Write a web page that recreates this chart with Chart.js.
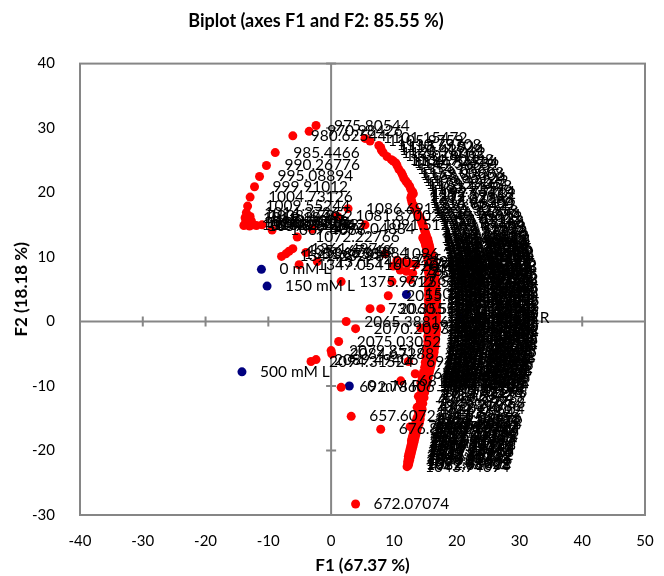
<!DOCTYPE html>
<html>
<head>
<meta charset="utf-8">
<title>Biplot</title>
<script src="https://cdn.jsdelivr.net/npm/chart.js@4"></script>
<style>
  body { margin: 0; background: #fff; }
  canvas { display: block; }
</style>
</head>
<body>
<canvas id="chartBiplot" width="664" height="576"></canvas>
<script>
var obsLabels = ['0 mM L', '150 mM L', '500 mM L', '0 mM R', '150 mM R', '500 mM R'];
var obsF1 = [-11.1, -10.2, -14.2, 2.9, 12.0, 20.5];
var obsF2 = [8.1, 5.5, -7.8, -10.0, 4.2, 0.6];

// left arc, running back towards the band
var arcLabels = ['970.98426', '975.80544', '980.62544', '985.4466', '990.26776', '995.08894', '999.91012', '1004.73126', '1009.55244', '1014.37362',
  '1019.1948', '1024.01598', '1028.83716', '1033.65834', '1038.47952', '1043.3007', '1048.12188', '1052.94306', '1057.76424', '1062.58542',
  '1067.4066', '1072.22766', '1077.04884', '1081.87002', '1086.69118', '1091.51236', '1096.33354'];
var arcF1 = [-3.5, -2.4, -6.1, -8.9, -10.3, -11.4, -12.2, -12.9, -13.3, -13.5,
  -13.7, -13.9, -13.6, -13.2, -12.9, -12.7, -11.9, -12.4, -13.0, -11.0,
  -9.4, -5.4, -3.0, 1.0, 2.7, 5.4, 8.6];
var arcF2 = [29.5, 30.4, 28.8, 26.2, 24.2, 22.5, 20.9, 19.3, 17.9, 16.9,
  16.1, 14.9, 15.5, 15.3, 16.3, 15.6, 14.9, 15.0, 14.8, 15.0,
  14.2, 13.1, 14.3, 16.3, 17.5, 15.0, 10.5];

// main band, top to bottom
var bandLabels = ['1101.15472', '1105.9759', '1110.79708', '1115.61826', '1120.43944', '1125.26062', '1130.0818', '1134.90298', '1139.72416', '1144.54534',
  '1149.36652', '1154.1877', '1159.00888', '1163.83006', '1168.65124', '1173.47242', '1178.2936', '1183.11478', '1187.93596', '1192.75714',
  '1197.57832', '1202.3995', '1207.22068', '1212.04186', '1216.86304', '1221.68422', '1226.5054', '1231.32658', '1236.14776', '1240.96894',
  '1245.79012', '1250.6113', '1255.43248', '1260.25366', '1265.07484', '1269.89602', '1274.7172', '1279.53838', '1284.35956', '1289.18074',
  '1294.00192', '1298.8231', '1303.64428', '1308.46546', '1313.28664', '1318.10782', '1322.929', '1327.75018', '1332.57136', '1337.39254',
  '1380.78316', '1385.60434', '1390.42552', '1395.2467', '1400.06788', '1404.88906', '1409.71024', '1414.53142', '1419.3526', '1424.17378',
  '1428.99496', '1433.81614', '1438.63732', '1443.4585', '1448.27968', '1453.10086', '1457.92204', '1462.74322', '1467.5644', '1472.38558',
  '1477.20676', '1482.02794', '1486.84912', '1491.6703', '1496.49148', '1501.31266', '1506.13384', '1510.95502', '1515.7762', '1520.59738',
  '1525.41856', '1530.23974', '1535.06092', '1539.8821', '1544.70328', '1549.52446', '1554.34564', '1559.16682', '1563.988', '1568.80918',
  '1573.63036', '1578.45154', '1583.27272', '1588.0939', '1592.91508', '1597.73626', '1602.55744', '1607.37862', '1612.1998', '1617.02098',
  '1621.84216', '1626.66334', '1631.48452', '1636.3057', '1641.12688', '1645.94806', '1650.76924', '1655.59042', '1660.4116', '1665.23278',
  '1670.05396', '1674.87514', '1679.69632', '1684.5175', '1689.33868', '1694.15986', '1698.98104', '1703.80222', '1708.6234', '1713.44458',
  '1718.26576', '1723.08694', '1727.90812', '1732.7293', '1737.55048', '1742.37166', '1747.19284', '1752.01402', '1756.8352', '1761.65638',
  '1766.47756', '1771.29874', '1776.11992', '1780.9411', '1785.76228', '1790.58346', '1795.40464', '1800.22582', '1805.047', '1809.86818',
  '1814.68936', '1819.51054', '1824.33172', '1829.1529', '1833.97408', '1838.79526', '1843.61644', '1848.43762', '1853.2588', '1858.07998',
  '1862.90116', '1867.72234', '1872.54352', '1877.3647', '1882.18588', '1887.00706', '1891.82824', '1896.64942', '1901.4706', '1906.29178',
  '1911.11296', '1915.93414', '1920.75532', '1925.5765', '1930.39768', '1935.21886', '1940.04004', '1944.86122', '1949.6824', '1954.50358',
  '1959.32476', '1964.14594', '1968.96712', '1973.7883', '1978.60948', '1983.43066', '1988.25184', '1993.07302', '1997.8942', '2002.71538',
  '2007.53656', '2012.35774', '2017.17892', '2022.0001', '2026.82128', '2031.64246', '2036.46364', '2041.28482', '2046.106', '2050.92718',
  '1000.11908', '1004.94026', '1009.76144', '1014.58262', '1019.4038', '1024.22498', '1029.04616', '1033.86734', '1038.68852', '1048.76212',
  '1053.5833', '1058.40448', '1063.22566', '1068.04684', '1072.86802', '1077.6892', '1082.51038', '1043.94094'];
var bandF1 = [5.4, 6.2, 7.6, 7.9, 8.0, 8.3, 8.9, 9.6, 9.9, 10.3,
  10.5, 10.8, 11.2, 11.4, 11.6, 11.9, 12.2, 12.5, 12.7, 13.0,
  13.1, 12.8, 12.7, 12.8, 12.9, 13.1, 13.3, 13.5, 13.7, 13.9,
  14.1, 14.3, 14.4, 14.5, 14.6, 14.7, 14.8, 14.9, 15.0, 15.1,
  15.2, 14.6, 15.4, 14.8, 15.5, 15.0, 15.6, 15.1, 15.7, 15.2,
  15.8, 15.3, 15.9, 15.4, 16.0, 15.5, 16.1, 15.6, 16.2, 15.6,
  16.3, 15.7, 16.4, 15.7, 16.5, 15.8, 16.4, 15.8, 16.5, 15.9,
  16.6, 15.9, 16.5, 16.0, 16.6, 16.0, 16.7, 16.0, 16.6, 16.1,
  16.7, 16.1, 16.6, 16.1, 16.7, 16.2, 16.8, 16.2, 16.7, 16.2,
  16.8, 16.2, 16.7, 16.3, 16.8, 16.3, 16.7, 16.3, 16.8, 16.3,
  16.7, 16.3, 16.8, 16.3, 16.7, 16.3, 16.8, 16.3, 16.7, 16.2,
  16.7, 16.2, 16.8, 16.2, 16.7, 16.1, 16.7, 16.1, 16.6, 16.1,
  16.6, 16.0, 16.6, 16.0, 16.5, 15.9, 16.5, 15.8, 16.4, 15.8,
  16.4, 15.7, 16.3, 15.6, 16.2, 15.5, 16.1, 15.4, 16.0, 15.3,
  15.9, 15.2, 15.8, 15.1, 15.7, 15.0, 15.6, 14.9, 15.5, 14.8,
  15.4, 14.8, 15.3, 14.7, 15.2, 14.6, 15.1, 14.5, 15.0, 14.4,
  14.9, 14.4, 14.8, 14.2, 14.6, 14.0, 14.5, 13.9, 14.3, 13.7,
  14.2, 13.6, 14.1, 13.5, 14.0, 13.4, 13.8, 13.3, 13.7, 13.2,
  13.6, 13.1, 13.5, 13.0, 13.4, 12.9, 13.3, 12.8, 13.2, 12.8,
  13.1, 12.7, 13.0, 12.6, 12.9, 12.5, 12.8, 12.4, 12.7, 12.3,
  12.6, 12.3, 12.5, 12.2, 12.4, 12.2, 12.3, 12.1];
var bandF2 = [28.4, 28.0, 27.3, 27.0, 26.6, 26.2, 25.6, 25.1, 24.9, 24.6,
  24.2, 23.6, 23.1, 22.7, 22.2, 21.8, 21.4, 21.0, 20.5, 20.1,
  19.8, 19.5, 19.2, 18.8, 18.4, 18.0, 17.6, 17.2, 16.9, 16.5,
  16.2, 15.9, 15.6, 15.3, 15.0, 14.7, 14.4, 14.1, 13.8, 13.5,
  13.2, 13.0, 12.8, 12.6, 12.4, 12.2, 12.0, 11.8, 11.6, 11.4,
  11.2, 11.0, 10.8, 10.6, 10.4, 10.2, 10.0, 9.8, 9.6, 9.4,
  9.2, 9.0, 8.8, 8.6, 8.4, 8.2, 8.0, 7.8, 7.6, 7.4,
  7.2, 7.0, 6.8, 6.6, 6.4, 6.2, 6.0, 5.8, 5.6, 5.4,
  5.2, 5.0, 4.8, 4.6, 4.4, 4.2, 4.0, 3.8, 3.6, 3.4,
  3.2, 3.0, 2.8, 2.6, 2.4, 2.2, 2.0, 1.8, 1.6, 1.4,
  1.2, 1.0, 0.8, 0.6, 0.4, 0.2, 0.0, -0.2, -0.4, -0.6,
  -0.8, -1.0, -1.2, -1.4, -1.6, -1.8, -2.0, -2.2, -2.4, -2.6,
  -2.8, -3.0, -3.2, -3.4, -3.6, -3.8, -4.0, -4.2, -4.4, -4.6,
  -4.8, -5.0, -5.2, -5.4, -5.6, -5.8, -6.0, -6.2, -6.4, -6.6,
  -6.8, -7.0, -7.2, -7.4, -7.6, -7.8, -8.0, -8.2, -8.4, -8.6,
  -8.8, -9.0, -9.2, -9.4, -9.6, -9.8, -10.0, -10.2, -10.4, -10.6,
  -11.0, -11.4, -11.8, -12.3, -12.7, -13.1, -13.6, -14.0, -14.4, -14.9,
  -15.1, -15.3, -15.5, -15.7, -15.9, -16.1, -16.3, -16.5, -16.7, -16.9,
  -17.1, -17.3, -17.5, -17.7, -17.9, -18.1, -18.3, -18.5, -18.7, -18.9,
  -19.1, -19.3, -19.5, -19.7, -19.9, -20.1, -20.3, -20.5, -20.7, -20.9,
  -21.1, -21.3, -21.5, -21.7, -21.9, -22.1, -22.3, -22.5];

// inner strand of the band
var strandLabels = ['1142.13475', '1146.95593', '1151.77711', '1156.59829', '1161.41947', '1166.24065', '1171.06183', '1175.88301', '1180.70419', '1185.52537',
  '1190.34655', '1195.16773', '1199.98891', '1204.81009', '1209.63127', '1214.45245', '1219.27363', '1224.09481', '1228.91599', '1233.73717',
  '1238.55835', '1243.37953', '1248.20071', '1253.02189', '1257.84307', '1262.66425', '1267.48543', '1272.30661', '1277.12779', '1281.94897',
  '1286.77015', '1291.59133', '1296.41251', '1301.23369', '1306.05487', '1310.87605', '1315.69723', '1320.51841', '1325.33959', '1330.16077',
  '1334.98195', '1339.80313', '1382.62431', '1387.44549', '1392.26667', '1397.08785', '1401.90903', '1406.73021', '1411.55139', '1416.37257',
  '1421.19375', '1426.01493', '1430.83611', '1435.65729', '1440.47847', '1445.29965', '1450.12083', '1454.94201'];
var strandF1 = [14.7, 14.9, 15.0, 15.1, 15.2, 15.3, 15.3, 15.4, 15.4, 15.5,
  15.5, 15.5, 15.6, 15.5, 15.6, 15.6, 15.5, 15.6, 15.5, 15.6,
  15.5, 15.6, 15.5, 15.6, 15.5, 15.6, 15.5, 15.6, 15.5, 15.6,
  15.5, 15.6, 15.5, 15.6, 15.5, 15.6, 15.5, 15.5, 15.4, 15.5,
  15.4, 15.5, 15.3, 15.4, 15.2, 15.3, 15.1, 15.2, 15.0, 15.1,
  14.9, 15.0, 14.7, 14.8, 14.5, 14.6, 14.3, 14.4];
var strandF2 = [12.9, 12.5, 12.1, 11.7, 11.3, 10.9, 10.5, 10.1, 9.7, 9.3,
  8.9, 8.5, 8.1, 7.7, 7.3, 6.9, 6.5, 6.1, 5.7, 5.3,
  4.9, 4.5, 4.1, 3.7, 3.3, 2.9, 2.5, 2.1, 1.7, 1.3,
  0.9, 0.5, 0.1, -0.3, -0.7, -1.1, -1.5, -1.9, -2.3, -2.7,
  -3.1, -3.5, -3.9, -4.3, -4.7, -5.1, -5.5, -5.9, -6.3, -6.7,
  -7.1, -7.5, -7.9, -8.3, -8.7, -9.1, -9.5, -9.9];

// loose points around the origin and the lower tail
var looseLabels = ['1342.23298', '1347.05416', '1351.87534', '1356.67648', '1361.49766', '1366.31884', '1371.14002', '1375.9612',
  '2055.74582', '2060.567', '2065.38816', '2070.20934', '2075.03052', '2079.8517', '2084.67288', '2089.49406', '2094.31524',
  '692.78606', '657.6072', '676.89312', '672.07074', '681.7143', '686.53548', '696.60724', '701.42842', '706.2496',
  '711.07078', '715.89196', '720.71314', '725.53432', '730.3555', '735.17668', '739.99786', '744.81904', '749.64022',
  '754.4614', '759.28258', '764.10376', '768.92494', '773.74612'];
var looseF1 = [-7.9, -5.1, -7.2, -6.7, -6.1, -4.0, -2.2, 1.6,
  9.1, 7.9, 2.4, 3.9, 1.2, 0.0, 0.1, -2.4, -3.2,
  1.6, 3.2, 7.9, 3.9, 11.1, 13.4, 12.3, 13.9, 13.7,
  12.6, 12.9, 9.9, 9.7, 6.2, 10.5, 11.5, 12.5, 13.5,
  11.0, 13.0, 12.6, 12.0, 14.3];
var looseF2 = [10.1, 8.8, 10.5, 10.9, 11.3, 10.7, 9.3, 6.2,
  4.0, 2.0, 0.0, -1.1, -3.1, -4.5, -5.0, -5.9, -6.2,
  -10.2, -14.7, -16.7, -28.3, -9.2, -8.1, -6.2, -11.6, -13.3,
  -16.3, -18.3, 8.6, 6.2, 2.0, 9.5, 9.2, 9.0, 8.8,
  8.0, 7.5, 6.5, 7.8, -1.0];

var varLabels = arcLabels.concat(bandLabels, strandLabels, looseLabels);
var varF1 = arcF1.concat(bandF1, strandF1, looseF1);
var varF2 = arcF2.concat(bandF2, strandF2, looseF2);

function toPoints(xs, ys) {
  return xs.map(function (x, i) { return { x: x, y: ys[i] }; });
}

var axisGray = '#868686';

// frame, the two axes through zero and their cross ticks
var crossAxes = {
  id: 'crossAxes',
  afterLayout: function (chart) {
    chart.titleBlock.left = 0;
    chart.titleBlock.right = 632;
  },
  beforeDatasetsDraw: function (chart) {
    var c = chart.ctx, a = chart.chartArea;
    var x0 = chart.scales.x.getPixelForValue(0);
    var y0 = chart.scales.y.getPixelForValue(0);
    c.save();
    c.strokeStyle = axisGray;
    c.lineWidth = 2;
    c.strokeRect(a.left, a.top, a.right - a.left, a.bottom - a.top);
    c.beginPath();
    c.moveTo(x0, a.top);
    c.lineTo(x0, a.bottom);
    c.moveTo(a.left, y0);
    c.lineTo(a.right, y0);
    chart.scales.x.ticks.forEach(function (t) {
      var px = chart.scales.x.getPixelForValue(t.value);
      c.moveTo(px, y0 - 5);
      c.lineTo(px, y0 + 5);
    });
    chart.scales.y.ticks.forEach(function (t) {
      var py = chart.scales.y.getPixelForValue(t.value);
      c.moveTo(x0 - 5, py);
      c.lineTo(x0 + 5, py);
    });
    c.stroke();
    c.restore();
  }
};

// point labels go on top of every marker
var pointLabels = {
  id: 'pointLabels',
  afterDatasetsDraw: function (chart) {
    var c = chart.ctx;
    c.save();
    c.font = '15.5px Lato';
    c.fillStyle = '#000';
    c.textAlign = 'left';
    c.textBaseline = 'middle';
    chart.data.datasets.forEach(function (ds, d) {
      chart.getDatasetMeta(d).data.forEach(function (el, i) {
        c.fillText(ds.pointNames[i], el.x + 18, el.y);
      });
    });
    c.restore();
  }
};

var ctx = document.getElementById('chartBiplot').getContext('2d');
var chartBiplot = new Chart(ctx, {
  type: 'scatter',
  data: {
    datasets: [{
      label: 'Variables',
      data: toPoints(varF1, varF2),
      pointNames: varLabels,
      backgroundColor: '#ff0000',
      borderWidth: 0,
      pointRadius: 4.5
    }, {
      label: 'Observations',
      data: toPoints(obsF1, obsF2),
      pointNames: obsLabels,
      backgroundColor: '#00007f',
      borderWidth: 0,
      pointRadius: 4.5
    }]
  },
  options: {
    responsive: false,
    animation: false,
    layout: { padding: { right: 19 } },
    plugins: {
      legend: { display: false },
      tooltip: { enabled: false },
      title: {
        display: true,
        text: 'Biplot (axes F1 and F2: 85.55 %)',
        color: '#000',
        font: { family: 'Lato', size: 18, weight: 'bold', lineHeight: 1.2 },
        padding: { top: 10, bottom: 32 }
      }
    },
    scales: {
      x: {
        min: -40,
        max: 50,
        ticks: { stepSize: 10, color: '#000', padding: 9, maxRotation: 0, font: { family: 'Lato', size: 15 } },
        grid: { display: false },
        border: { display: false },
        title: { display: true, text: 'F1 (67.37 %)', color: '#000', padding: { top: 4, bottom: 0 }, font: { family: 'Lato', size: 17, weight: 'bold' } },
        afterFit: function (scale) { scale.height = 61; }
      },
      y: {
        min: -30,
        max: 40,
        ticks: { stepSize: 10, color: '#000', padding: 17, font: { family: 'Lato', size: 15 } },
        grid: { display: false },
        border: { display: false },
        title: { display: true, text: 'F2 (18.18 %)', color: '#000', padding: { top: 11, bottom: 4 }, font: { family: 'Lato', size: 17, weight: 'bold' } },
        afterFit: function (scale) { scale.width = 80; }
      }
    }
  },
  plugins: [crossAxes, pointLabels]
});
</script>
</body>
</html>
